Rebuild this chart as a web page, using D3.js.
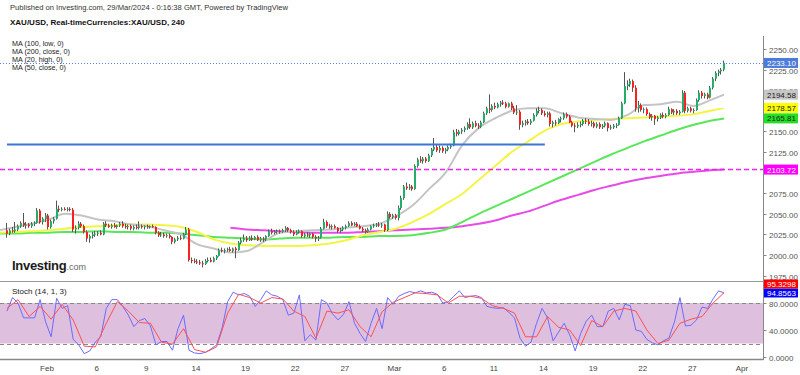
<!DOCTYPE html>
<html>
<head>
<meta charset="utf-8">
<script src="https://cdn.jsdelivr.net/npm/d3@7"></script>
<style>
body { margin: 0; background: #fff; }
svg { display: block; font-family: "Liberation Sans", Arial, sans-serif; }
</style>
</head>
<body>
<svg id="chart" width="800" height="375"></svg>
<script>
// 4h candles, bar 3 of Jan 29 through the last bar of Mar 28 (6 bars per trading day)
var firstBar = 3;
var candles = [
    [2030,2039,2021,2026],[2026,2032,2024,2030],[2030,2034,2027,2029],
    [2029,2040,2027,2031],[2031,2037,2029,2035],[2035,2041,2033,2039],[2039,2051,2034,2036],[2036,2040,2032,2037],[2037,2039,2033,2035],
    [2035,2040,2033,2038],[2038,2041,2035,2039],[2039,2057,2038,2054],[2054,2056,2038,2040],[2040,2046,2037,2044],[2044,2051,2040,2048],
    [2048,2050,2031,2034],[2034,2043,2032,2041],[2041,2046,2038,2044],[2044,2066,2043,2056],[2056,2060,2052,2055],[2055,2058,2053,2056],
    [2056,2058,2054,2055],[2055,2058,2053,2056],[2056,2058,2053,2055],[2055,2057,2028,2031],[2031,2036,2026,2033],[2033,2041,2031,2038],
    [2038,2040,2033,2035],[2035,2037,2026,2028],[2028,2030,2016,2020],[2020,2025,2015,2023],[2023,2028,2020,2025],[2025,2029,2022,2026],
    [2026,2029,2023,2027],[2027,2030,2024,2025],[2025,2040,2024,2038],[2038,2041,2034,2036],[2036,2038,2033,2034],[2034,2038,2032,2036],
    [2036,2039,2033,2034],[2034,2037,2032,2036],[2036,2040,2034,2038],[2038,2041,2033,2035],[2035,2038,2032,2034],[2034,2037,2031,2035],
    [2035,2037,2030,2032],[2032,2036,2030,2034],[2034,2037,2031,2033],[2033,2041,2031,2035],[2035,2037,2032,2034],[2034,2036,2031,2035],
    [2035,2037,2032,2034],[2034,2036,2032,2035],[2035,2037,2033,2034],[2034,2035,2025,2027],[2027,2029,2022,2024],[2024,2028,2022,2025],
    [2025,2027,2021,2023],[2023,2026,2021,2024],[2024,2026,2020,2022],[2022,2023,2013,2016],[2016,2021,2014,2019],[2019,2023,2017,2021],
    [2021,2024,2018,2020],[2020,2027,2019,2025],[2025,2034,2024,2031],[2031,2033,1992,1994],[1994,1997,1990,1993],[1993,1996,1990,1992],
    [1992,1995,1989,1991],[1991,1994,1988,1990],[1990,1993,1985,1989],[1989,1995,1988,1993],[1993,1997,1991,1994],[1994,1997,1991,1992],
    [1992,1998,1991,1996],[1996,2000,1994,1999],[1999,2008,1998,2006],[2006,2009,2003,2005],[2005,2008,2002,2006],[2006,2009,2004,2007],
    [2007,2010,2004,2005],[2005,2009,2003,2008],[2008,2010,1996,2006],[2006,2017,2005,2015],[2015,2021,2013,2018],[2018,2025,2016,2020],
    [2020,2023,2016,2018],[2018,2023,2017,2021],[2021,2024,2017,2019],[2019,2023,2018,2022],[2022,2024,2017,2018],[2018,2022,2016,2020],
    [2020,2022,2016,2019],[2019,2024,2017,2023],[2023,2031,2022,2029],[2029,2032,2025,2027],[2027,2030,2025,2028],[2028,2031,2026,2029],
    [2029,2031,2026,2028],[2028,2032,2027,2030],[2030,2035,2028,2033],[2033,2034,2028,2030],[2030,2032,2026,2028],[2028,2030,2023,2025],
    [2025,2030,2024,2028],[2028,2031,2026,2029],[2029,2030,2021,2023],[2023,2027,2021,2025],[2025,2028,2022,2024],[2024,2027,2021,2026],
    [2026,2027,2020,2022],[2022,2024,2016,2020],[2020,2023,2017,2021],[2021,2034,2020,2032],[2032,2044,2031,2040],[2040,2042,2033,2035],
    [2035,2038,2032,2034],[2034,2037,2031,2035],[2035,2037,2032,2033],[2033,2034,2027,2029],[2029,2033,2027,2031],[2031,2035,2029,2033],
    [2033,2037,2031,2035],[2035,2041,2034,2039],[2039,2041,2035,2036],[2036,2040,2035,2038],[2038,2040,2034,2035],[2035,2037,2031,2032],
    [2032,2034,2028,2030],[2030,2032,2026,2028],[2028,2033,2027,2031],[2031,2036,2030,2035],[2035,2038,2033,2036],[2036,2039,2034,2037],
    [2037,2040,2034,2036],[2036,2039,2033,2037],[2037,2038,2028,2030],[2030,2053,2029,2050],[2050,2052,2044,2046],[2046,2050,2044,2048],
    [2048,2050,2043,2045],[2045,2060,2042,2057],[2057,2072,2055,2069],[2069,2085,2067,2083],[2083,2088,2079,2081],[2081,2086,2079,2083],
    [2083,2085,2078,2080],[2080,2110,2079,2108],[2108,2118,2106,2116],[2116,2120,2112,2114],[2114,2119,2111,2117],[2117,2119,2112,2114],
    [2114,2123,2113,2121],[2121,2130,2119,2128],[2128,2142,2126,2131],[2131,2134,2125,2127],[2127,2133,2124,2130],[2130,2132,2124,2126],
    [2126,2130,2123,2128],[2128,2133,2126,2131],[2131,2135,2129,2133],[2133,2152,2132,2149],[2149,2153,2144,2147],[2147,2152,2145,2150],
    [2150,2154,2147,2152],[2152,2156,2149,2154],[2154,2161,2152,2159],[2159,2166,2153,2155],[2155,2162,2153,2160],[2160,2163,2155,2157],
    [2157,2160,2153,2156],[2156,2163,2154,2161],[2161,2174,2160,2172],[2172,2180,2170,2178],[2178,2195,2172,2176],[2176,2183,2174,2181],
    [2181,2185,2177,2179],[2179,2185,2178,2183],[2183,2187,2180,2185],[2185,2188,2182,2184],[2184,2186,2178,2180],[2180,2185,2179,2184],
    [2184,2186,2176,2178],[2178,2181,2171,2173],[2173,2182,2170,2174],[2174,2176,2152,2158],[2158,2163,2155,2160],[2160,2164,2157,2162],
    [2162,2165,2158,2160],[2160,2165,2158,2163],[2163,2172,2162,2170],[2170,2178,2168,2175],[2175,2180,2172,2176],[2176,2178,2170,2172],
    [2172,2175,2168,2170],[2170,2174,2167,2172],[2172,2174,2156,2159],[2159,2163,2155,2161],[2161,2164,2157,2160],[2160,2166,2159,2165],
    [2165,2168,2161,2166],[2166,2173,2164,2171],[2171,2173,2166,2168],[2168,2170,2160,2161],[2161,2163,2155,2157],[2157,2160,2149,2156],
    [2156,2161,2154,2158],[2158,2162,2155,2159],[2159,2165,2157,2163],[2163,2166,2159,2162],[2162,2165,2157,2159],[2159,2163,2156,2160],
    [2160,2162,2154,2156],[2156,2161,2154,2159],[2159,2161,2153,2155],[2155,2159,2153,2157],[2157,2162,2155,2160],[2160,2161,2150,2154],
    [2154,2158,2152,2155],[2155,2159,2153,2157],[2157,2160,2154,2158],[2158,2168,2157,2166],[2166,2186,2165,2184],[2184,2222,2183,2205],
    [2205,2212,2200,2207],[2207,2214,2204,2211],[2211,2213,2198,2203],[2203,2206,2174,2178],[2178,2187,2173,2182],[2182,2184,2174,2176],
    [2176,2179,2172,2177],[2177,2179,2169,2171],[2171,2173,2165,2167],[2167,2171,2163,2169],[2169,2170,2158,2165],[2165,2169,2162,2167],
    [2167,2172,2165,2170],[2170,2173,2166,2168],[2168,2172,2166,2170],[2170,2180,2169,2177],[2177,2178,2171,2173],[2173,2177,2170,2175],
    [2175,2177,2170,2172],[2172,2176,2170,2174],[2174,2200,2173,2197],[2197,2199,2172,2175],[2175,2180,2173,2178],[2178,2180,2173,2175],
    [2175,2178,2172,2176],[2176,2190,2175,2188],[2188,2200,2186,2197],[2197,2199,2190,2193],[2193,2197,2190,2195],[2195,2197,2189,2191],
    [2191,2205,2190,2203],[2203,2216,2201,2214],[2214,2223,2211,2221],[2221,2225,2217,2223],[2223,2227,2219,2225],[2225,2236,2223,2233.10]
];

// moving averages read at the first bar of each trading day, plus the last bar
var maBars = d3.range(0, 44).map(function (d) { return d * 6; }).concat([263]);
var ma20High = [2030,2034,2038,2043,2050,2048,2043,2041,2037,2035,2030,2025,2013,2008,2003,2005,2016,2027,2029,2030,2031,2033,2035,2038,2047,2060,2080,2100,2133,2154,2166,2175,2178,2178,2172,2167,2165,2164,2170,2182,2183,2186,2181,2188,2194.58];
var ma50Close = [2027,2028,2029,2030,2032,2034,2035,2036,2037,2037,2036,2034,2028,2019,2014,2012,2011,2011,2011,2012,2014,2018,2024,2028,2032,2040,2050,2062,2074,2091,2108,2125,2138,2151,2159,2162,2164,2165,2166,2167,2168,2169,2171,2175,2178.57];
var ma100Low = [2026,2026,2027,2027,2028,2028,2029,2028,2028,2027,2027,2026,2024,2022,2021,2020,2019,2020,2021,2021,2021,2022,2022,2023,2023,2024,2027,2031,2040,2050,2059,2068,2077,2086,2095,2104,2113,2122,2130,2138,2145,2152,2158,2163,2165.81];
var ma200Close = [null,null,null,null,null,null,null,null,null,null,null,null,null,null,2033,2031,2030,2029,2028,2027,2027,2027,2028,2029,2030,2031,2032,2033,2035,2038,2042,2048,2053,2060,2067,2073,2079,2084,2089,2093,2096,2099,2101,2103,2103.72];

var lastPrice = 2233.10;
var supportLevel = 2134;
var supportBars = [3, 198];
var dashedLevel = 2103.72;

// stochastic (14,1,3): %K every 2 bars from bar 3, %D every 4 bars from bar 3
var stochK = [
    68,88,80,58,58,58,85,52,30,87,
    72,76,26,18,5,9,22,30,72,85,
    85,75,62,45,54,57,46,18,23,23,
    10,42,62,10,6,5,7,12,18,43,
    82,96,92,94,90,75,85,98,92,90,
    85,62,65,92,24,33,25,85,80,64,
    55,63,82,50,35,23,50,72,42,88,
    78,90,94,97,95,98,95,96,93,80,
    82,90,98,88,90,91,88,75,73,72,
    73,66,58,28,16,22,50,72,58,24,
    37,50,33,9,35,53,62,45,45,68,
    72,55,78,76,40,38,26,21,18,24,
    28,52,88,46,47,55,74,72,86,98,
    94.8563
];
var stochD = [
    72,85,60,75,56,78,55,16,15,50,
    82,68,51,50,22,19,42,11,7,15,
    65,93,88,80,88,86,68,60,28,68,
    65,70,45,30,67,81,88,95,94,92,
    80,90,90,87,76,72,65,30,30,60,
    44,40,17,54,45,68,72,68,40,20,
    25,50,56,60,80,95.3298
];

var tickDays = [3, 6, 9, 12, 15, 18, 21, 24, 27, 30, 33, 36, 39, 42, 45];
var tickLabels = ["Feb", "6", "9", "14", "19", "22", "27", "Mar", "6", "11", "14", "19", "22", "27", "Apr"];
var priceTicks = [1975, 2000, 2025, 2050, 2075, 2100, 2125, 2150, 2175, 2200, 2225, 2250];
var stochTicks = [0, 40, 80];

var svg = d3.select("#chart");
var axisX = 763.5;
var x = d3.scaleLinear().domain([0, 270]).range([-1.27, 743.4]);
var y = d3.scaleLinear().domain([1969.7, 2265.8]).range([280, 36]);
var ys = d3.scaleLinear().domain([0, 100]).range([357, 289.5]);
var fmt2 = d3.format(".2f"), fmt4 = d3.format(".4f");

var defs = svg.append("defs");
defs.append("clipPath").attr("id", "clipMain")
    .append("rect").attr("x", 0).attr("y", 36).attr("width", 763).attr("height", 244);
defs.append("clipPath").attr("id", "clipStoch")
    .append("rect").attr("x", 0).attr("y", 282).attr("width", 763).attr("height", 77);

// header
svg.append("text").attr("x", 10).attr("y", 10).attr("font-size", 7.6).attr("fill", "#333")
    .text("Published on Investing.com, 29/Mar/2024 - 0:16:38 GMT, Powered by TradingView");
svg.append("text").attr("x", 10).attr("y", 25).attr("font-size", 8).attr("font-weight", "bold").attr("fill", "#111")
    .text("XAU/USD, Real-timeCurrencies:XAU/USD, 240");

var main = svg.append("g").attr("clip-path", "url(#clipMain)");

// moving averages
var maLine = d3.line()
    .defined(function (d) { return d.v != null; })
    .x(function (d) { return x(d.bar); })
    .y(function (d) { return y(d.v); })
    .curve(d3.curveMonotoneX);
var maSeries = [
    { values: ma200Close, color: "#e84ae8" },
    { values: ma100Low, color: "#5ae65a" },
    { values: ma50Close, color: "#f4f445" },
    { values: ma20High, color: "#c4c4c4" }
];
maSeries.forEach(function (s) {
    var pts = s.values.map(function (v, i) { return { bar: maBars[i], v: v }; });
    main.append("path").datum(pts).attr("d", maLine)
        .attr("fill", "none").attr("stroke", s.color).attr("stroke-width", 2);
});

// candles
var upColor = "#26ad6a", downColor = "#ff1f1f", wickColor = "#555";
var cg = main.append("g").selectAll("g").data(candles).enter().append("g");
cg.append("line")
    .attr("x1", function (d, i) { return Math.round(x(firstBar + i)) - 0.5; })
    .attr("x2", function (d, i) { return Math.round(x(firstBar + i)) - 0.5; })
    .attr("y1", function (d) { return y(d[1]); })
    .attr("y2", function (d) { return y(d[2]); })
    .attr("stroke", wickColor).attr("stroke-width", 1);
cg.append("rect")
    .attr("x", function (d, i) { return Math.round(x(firstBar + i)) - 1; })
    .attr("width", 2)
    .attr("y", function (d) { return y(Math.max(d[0], d[3])); })
    .attr("height", function (d) { return Math.max(1, Math.abs(y(d[0]) - y(d[3]))); })
    .attr("fill", function (d) { return d[3] > d[0] ? upColor : d[3] < d[0] ? downColor : "#333"; });

// horizontal levels
main.append("line")
    .attr("x1", x(supportBars[0])).attr("x2", x(supportBars[1]))
    .attr("y1", y(supportLevel)).attr("y2", y(supportLevel))
    .attr("stroke", "#3c74d8").attr("stroke-width", 2);
main.append("line")
    .attr("x1", 0).attr("x2", 763)
    .attr("y1", y(dashedLevel)).attr("y2", y(dashedLevel))
    .attr("stroke", "#f020f0").attr("stroke-width", 1.5).attr("stroke-dasharray", "5,3");
main.append("line")
    .attr("x1", 0).attr("x2", 763)
    .attr("y1", Math.round(y(lastPrice)) + 0.5).attr("y2", Math.round(y(lastPrice)) + 0.5)
    .attr("stroke", "#5b80dc").attr("stroke-width", 1).attr("stroke-dasharray", "1,2");

// legend
var legend = ["MA (100, low, 0)", "MA (200, close, 0)", "MA (20, high, 0)", "MA (50, close, 0)"];
svg.append("g").selectAll("text").data(legend).enter().append("text")
    .attr("x", 12).attr("y", function (d, i) { return 46 + i * 8; })
    .attr("font-size", 7.2).attr("fill", "#222")
    .text(function (d) { return d; });

// logo
var logo = svg.append("text").attr("x", 12).attr("y", 270);
logo.append("tspan").attr("font-size", 13).attr("font-weight", "bold").attr("fill", "#1b1b1b").attr("letter-spacing", -0.3).text("Investing");
logo.append("tspan").attr("font-size", 9).attr("fill", "#666").text(".com");

// stochastic panel
var stoch = svg.append("g");
stoch.append("rect").attr("x", 0).attr("width", 763)
    .attr("y", ys(80)).attr("height", ys(20) - ys(80)).attr("fill", "#dec0de");
[80, 20].forEach(function (v) {
    stoch.append("line").attr("x1", 0).attr("x2", 763)
        .attr("y1", Math.round(ys(v)) + 0.5).attr("y2", Math.round(ys(v)) + 0.5)
        .attr("stroke", "#888").attr("stroke-dasharray", "4,3");
});
var sg = stoch.append("g").attr("clip-path", "url(#clipStoch)");
var sLine = d3.line().x(function (d) { return x(d.bar); }).y(function (d) { return ys(d.v); });
sg.append("path").datum(stochK.map(function (v, i) { return { bar: 3 + i * 2, v: v }; }))
    .attr("d", sLine).attr("fill", "none").attr("stroke", "#6b6bff").attr("stroke-width", 1);
sg.append("path").datum(stochD.map(function (v, i) { return { bar: 3 + i * 4, v: v }; }))
    .attr("d", sLine).attr("fill", "none").attr("stroke", "#ff5050").attr("stroke-width", 1);
svg.append("text").attr("x", 12).attr("y", 294).attr("font-size", 8).attr("fill", "#222").text("Stoch (14, 1, 3)");

// frame lines
svg.append("line").attr("x1", 0).attr("x2", axisX).attr("y1", 281.5).attr("y2", 281.5).attr("stroke", "#999");
svg.append("line").attr("x1", 0).attr("x2", axisX).attr("y1", 359.5).attr("y2", 359.5).attr("stroke", "#888").attr("stroke-width", 1.5);
svg.append("line").attr("x1", axisX).attr("x2", axisX).attr("y1", 36).attr("y2", 360).attr("stroke", "#888");

// x axis labels
svg.append("g").selectAll("text").data(tickDays).enter().append("text")
    .attr("x", function (d) { return x(d * 6 - 0.5); })
    .attr("y", 371).attr("text-anchor", "middle").attr("font-size", 8).attr("fill", "#444")
    .text(function (d, i) { return tickLabels[i]; });

// value tags sit on the right axis; tick labels fully hidden behind one are not drawn
var tagPrices = [lastPrice, ma20High[44], ma50Close[44], ma100Low[44], dashedLevel];
var ticks = svg.append("g");
priceTicks.forEach(function (p) {
    var yy = Math.round(y(p)) + 0.5;
    ticks.append("line").attr("x1", axisX).attr("x2", axisX + 3).attr("y1", yy).attr("y2", yy).attr("stroke", "#888");
    var hidden = tagPrices.some(function (t) { return Math.abs(y(t) - y(p)) < 4; }) || p === 2175;
    if (!hidden) {
        ticks.append("text").attr("x", 769).attr("y", yy + 3).attr("font-size", 8).attr("fill", "#555").text(fmt2(p));
    }
});
stochTicks.forEach(function (v) {
    var yy = Math.round(ys(v)) + 0.5;
    ticks.append("line").attr("x1", axisX).attr("x2", axisX + 3).attr("y1", yy).attr("y2", yy).attr("stroke", "#888");
    ticks.append("text").attr("x", 769).attr("y", yy + 3).attr("font-size", 8).attr("fill", "#555").text(fmt4(v));
});

function tag(yc, label, bg, fg, h) {
    var g = svg.append("g");
    g.append("rect").attr("x", 764).attr("y", yc - h / 2).attr("width", 34).attr("height", h).attr("fill", bg);
    g.append("text").attr("x", 767).attr("y", yc + 3).attr("font-size", 8).attr("fill", fg).text(label);
}
tag(y(lastPrice), fmt2(lastPrice), "#4d7bd9", "#fff", 10);
tag(y(ma20High[44]), fmt2(ma20High[44]), "#c6c6c6", "#222", 10);
tag(y(ma50Close[44]), fmt2(ma50Close[44]), "#ffff00", "#222", 10);
tag(Math.max(y(ma100Low[44]), y(ma50Close[44]) + 10), fmt2(ma100Low[44]), "#22e022", "#222", 10);
tag(y(dashedLevel), fmt2(dashedLevel), "#ff00ff", "#fff", 10);
var kLast = stochK[stochK.length - 1], dLast = stochD[stochD.length - 1];
tag(ys(kLast), fmt4(kLast), "#0000ff", "#fff", 9);
tag(ys(kLast) - 9, fmt4(dLast), "#ff0000", "#fff", 9);
</script>
</body>
</html>
